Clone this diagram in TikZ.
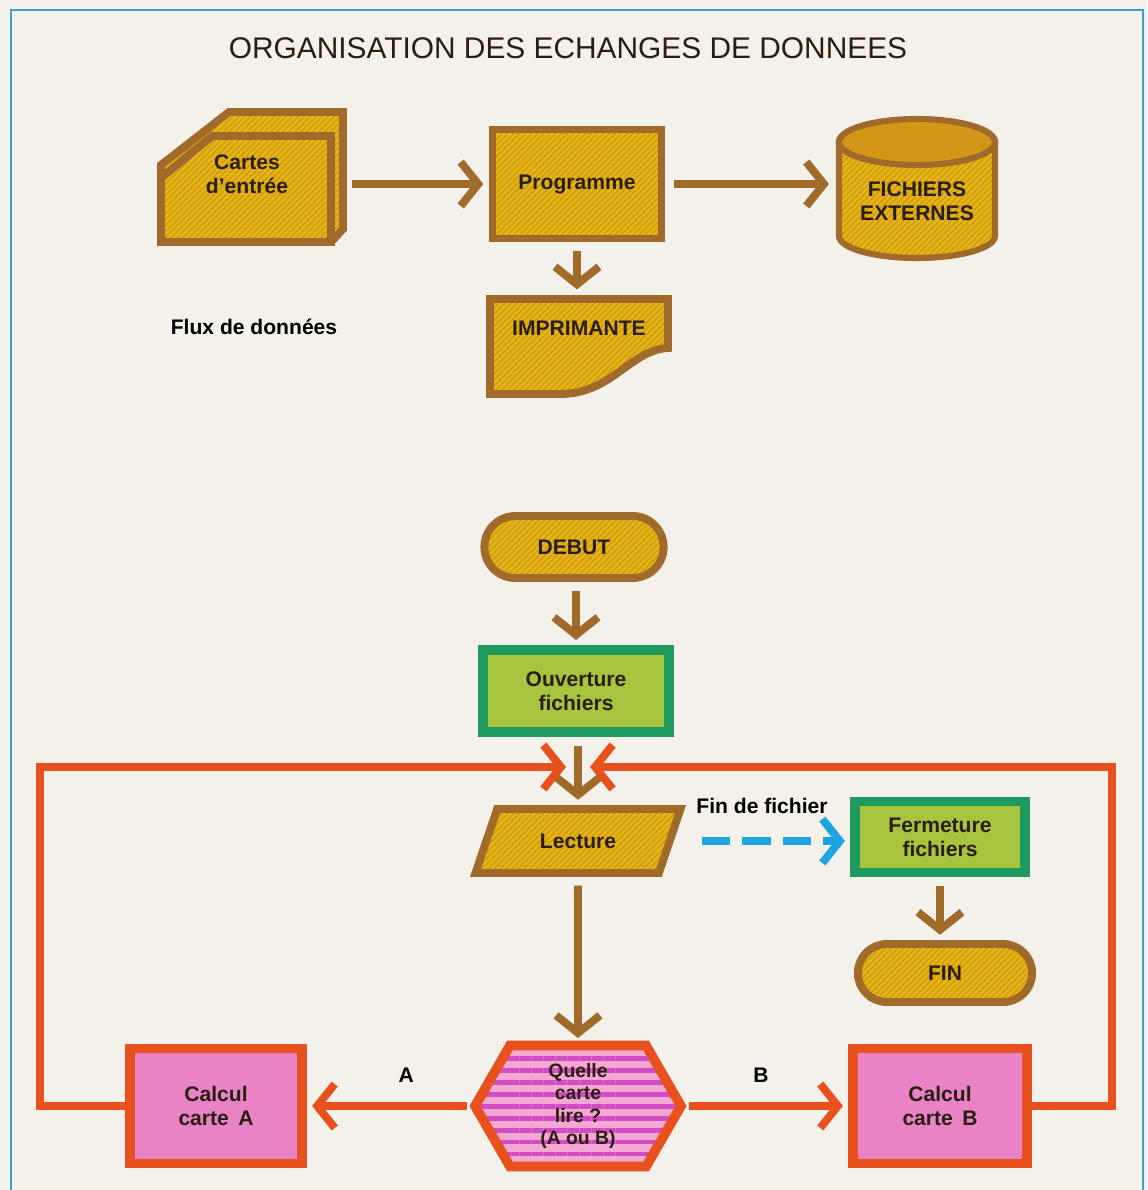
\documentclass[tikz,border=0pt]{standalone}
\usepackage{fontspec}
\setmainfont{Liberation Sans}
\usetikzlibrary{shapes.geometric,shapes.misc,shapes.symbols,arrows.meta,patterns.meta}

\definecolor{paper}{HTML}{F4F1EA}
\definecolor{frameblue}{HTML}{3AA0D0}
\definecolor{gold}{HTML}{E6B414}
\definecolor{goldhatch}{HTML}{CC9812}
\definecolor{goldtop}{HTML}{D49616}
\definecolor{brun}{HTML}{A06A2A}
\definecolor{leaf}{HTML}{A6C43E}
\definecolor{leafedge}{HTML}{1F9A5E}
\definecolor{rouge}{HTML}{E8501E}
\definecolor{rose}{HTML}{E983C6}
\definecolor{roselight}{HTML}{F2A8D2}
\definecolor{stripe}{HTML}{D24CC4}
\definecolor{ciel}{HTML}{1EA4E0}
\definecolor{ink}{HTML}{2A1E10}

\begin{document}
\begin{tikzpicture}[x=0.02cm, y=-0.02cm,
    font=\bfseries\fontsize{12}{13.6}\selectfont,
    yellowbox/.style={draw=brun, line width=4.5pt, preaction={fill=gold},
        pattern={Lines[angle=45,distance=2.4pt,line width=0.7pt]}, pattern color=goldhatch,
        text=ink, align=center},
    greenbox/.style={rectangle, draw=leafedge, line width=5.5pt, fill=leaf, text=ink, align=center},
    pinkbox/.style={rectangle, draw=rouge, line width=5.5pt, fill=rose, text=ink, align=center},
    flow/.style={draw=brun, line width=4.5pt, -{Straight Barb[length=10pt,width=25pt]},
        shorten <=5pt, shorten >=3pt},
    back/.style={draw=rouge, line width=4.5pt, -{Straight Barb[length=10pt,width=25pt]}},
    dashflow/.style={draw=ciel, line width=4.5pt, dash pattern=on 16pt off 7pt,
        -{Straight Barb[length=10pt,width=25pt]}}]

    % page and blue frame
    \fill[paper] (0,0) rectangle (1147,1190);
    \useasboundingbox (0,0) rectangle (1147,1190);
    \draw[frameblue, line width=1.5pt] (11,1190) -- (11,10) -- (1143,10) -- (1143,1190);
    \node[font=\fontsize{17}{20}\selectfont, text=ink] (titre) at (568,48) {ORGANISATION DES ECHANGES DE DONNEES};

    % Flux de donnees
    \draw[yellowbox] (161,165) -- (229,112) -- (343,112) -- (343,229) -- (331,242) -- (161,242) -- cycle;
    \draw[yellowbox] (161,178) -- (212,136) -- (331,136) -- (331,242) -- (161,242) -- cycle;
    \node[align=center, text=ink, minimum width=4.2cm, minimum height=2.8cm] (cartes) at (247,174) {Cartes\\d'entrée};

    \node[yellowbox, rectangle, minimum width=3.38cm, minimum height=2.18cm] (prog) at (577,184) {Programme};

    \draw[yellowbox, line width=3.5pt] (839,142) -- (839,236) arc[start angle=180, end angle=360, x radius=1.56cm, y radius=0.44cm] -- (995,142) -- cycle;
    \draw[brun, line width=3.5pt, fill=goldtop] (917,142) ellipse[x radius=1.56cm, y radius=0.46cm];
    \node[align=center, text=ink, minimum width=3.3cm, minimum height=2cm] (fich) at (917,201) {FICHIERS\\EXTERNES};

    \draw[yellowbox] (490,299) -- (668,299) -- (668,348) .. controls (630,350) and (612,394) .. (560,394) -- (490,394) -- cycle;
    \node[text=ink, minimum width=3.7cm, minimum height=1.32cm] (impr) at (579,328) {IMPRIMANTE};

    \node[text=black] (flux) at (254,327) {Flux de données};

    \draw[flow, shorten <=0pt] (cartes.east |- prog.west) -- (prog.west);
    \draw[flow] (prog.east) -- (prog.east -| fich.west);
    \draw[flow] (prog.south) -- (prog.south |- impr.north);

    % Organigramme
    \node[yellowbox, rounded rectangle, minimum width=3.82cm, minimum height=1.24cm] (debut) at (574,547) {DEBUT};
    \node[greenbox, minimum width=3.72cm, minimum height=1.64cm] (ouv) at (576,691) {Ouverture\\fichiers};
    \node[yellowbox, trapezium, trapezium left angle=66, trapezium right angle=114, trapezium stretches=true,
        minimum width=4.12cm, minimum height=1.28cm] (lect) at (578,841) {Lecture};
    \node[draw=rouge, line width=5.5pt, preaction={fill=roselight},
        pattern={Lines[angle=0,distance=6.8pt,line width=2.6pt]}, pattern color=stripe,
        signal, signal to=west and east, signal pointer angle=120, text=ink, align=center,
        font=\bfseries\fontsize{11}{12.6}\selectfont,
        minimum width=4.12cm, minimum height=2.42cm] (quel) at (578,1106) {Quelle\\carte\\lire ?\\(A ou B)};
    \node[pinkbox, minimum width=3.44cm, minimum height=2.3cm] (calcA) at (216,1106) {Calcul\\carte\, A};
    \node[pinkbox, minimum width=3.48cm, minimum height=2.3cm] (calcB) at (940,1106) {Calcul\\carte\, B};
    \node[greenbox, minimum width=3.4cm, minimum height=1.42cm] (ferm) at (940,837) {Fermeture\\fichiers};
    \node[yellowbox, rounded rectangle, minimum width=3.72cm, minimum height=1.16cm] (fin) at (945,973) {FIN};

    \coordinate (retA) at (566,767);
    \coordinate (retB) at (590,767);

    \draw[flow] (ouv.south |- debut.south) -- (ouv.north);
    \draw[flow] (lect.north |- ouv.south) -- (lect.north);
    \draw[flow] (lect.south) -- (quel.north);
    \draw[flow] (ferm.south) -- (ferm.south |- fin.north);
    \draw[dashflow, shorten <=16pt, shorten >=3pt] (lect.east) -- (lect.east -| ferm.west)
        node[midway, above=10pt, text=black] {Fin de fichier};

    \draw[back, shorten <=3pt, shorten >=3pt] (quel.west) -- (calcA.east) node[pos=0.4, above=8pt, text=black] {A};
    \draw[back, shorten <=3pt, shorten >=3pt] (quel.east) -- (calcB.west) node[pos=0.47, above=8pt, text=black] {B};
    \draw[back] (calcA.west) -- ++(-85,0) |- (retA);
    \draw[back] (calcB.east) -- ++(80,0) |- (retB);
\end{tikzpicture}
\end{document}
